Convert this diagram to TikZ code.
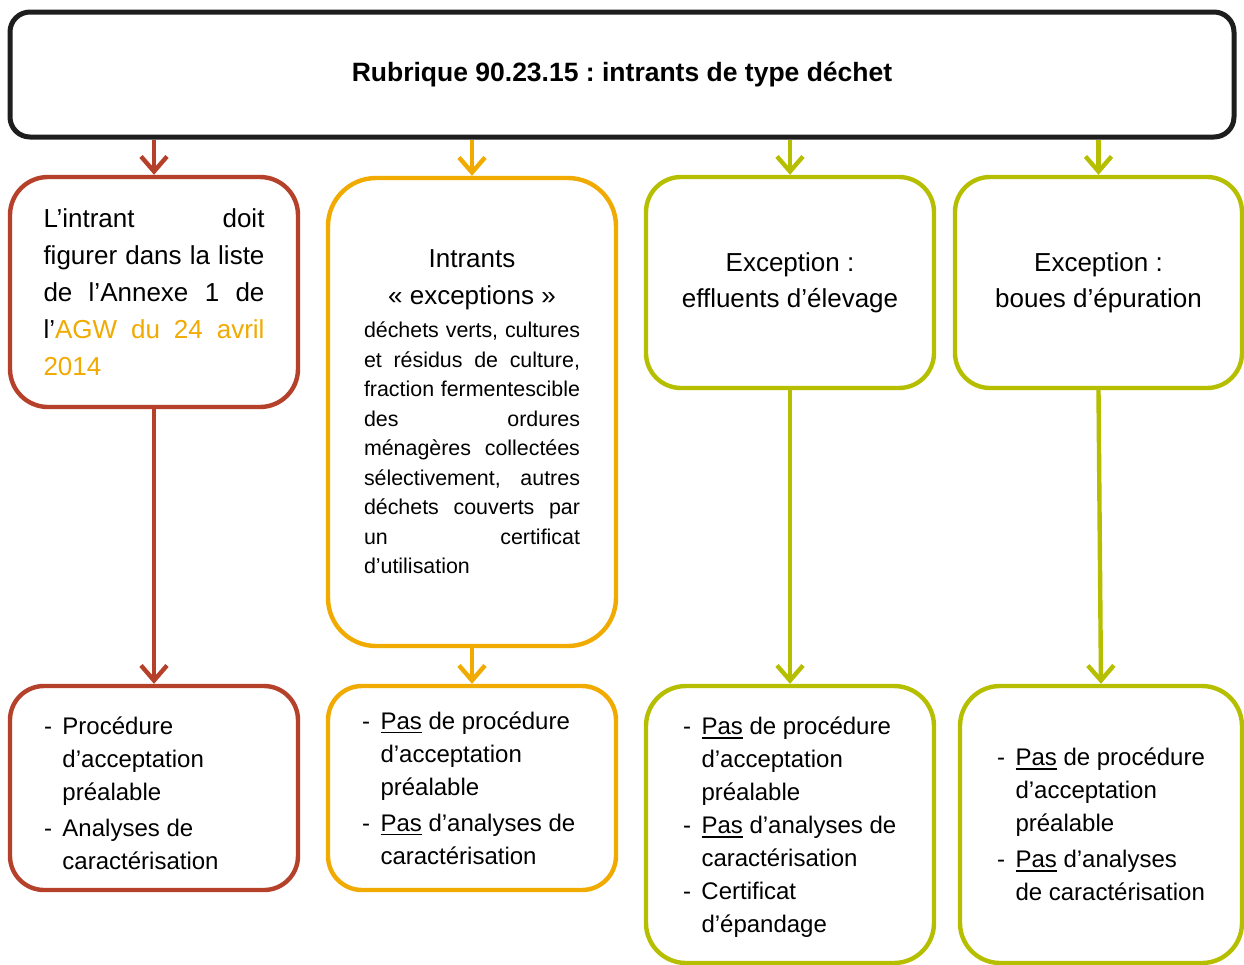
\documentclass[tikz,border=0pt]{standalone}
\usepackage{fontspec}
\setmainfont{Liberation Sans}
\usepackage{tikz}
\usetikzlibrary{arrows.meta, positioning}
\definecolor{rouge}{HTML}{B5412B}
\definecolor{jaune}{HTML}{F0AA00}
\definecolor{vert}{HTML}{B5BF00}
\definecolor{noir}{HTML}{1E1E1E}
\tikzset{>={Straight Barb[length=7.5pt,width=13pt]}}
\frenchspacing
\newcommand{\bloc}[2]{\vbox{\hsize=#1\relax\parindent=0pt\parskip=1.5pt\rightskip=0pt plus 1fil\hyphenpenalty=10000 #2}}
\newcommand{\jrow}[1]{\hbox to\hsize{#1}}
\newcommand{\souligne}[1]{\setbox0=\hbox{#1}\rlap{\rule[-2pt]{\wd0}{0.8pt}}\box0\relax}
\newcommand{\itm}[1]{\par\hangindent=9.25pt\hangafter=1\noindent\hbox to9.25pt{-\hfil}#1\par}

\begin{document}
\begin{tikzpicture}[x=0.5pt,y=-0.5pt,
        cadre/.style={draw, line width=2.2pt, rounded corners=#1, inner sep=0pt, minimum width=144pt, fill=white},
        cadre/.default=17pt,
        gros/.style={font=\fontsize{13}{18.5}\selectfont},
        liste/.style={font=\fontsize{12}{16.5}\selectfont},
        fleche/.style={->, line width=2.2pt}]
        \useasboundingbox (0,0) rectangle (1244,965);

        % rubrique
        \node[cadre=10pt, draw=noir, line width=2.5pt, minimum width=612pt, minimum height=62.5pt,
              font={\fontsize{13.25}{16}\selectfont\bfseries}] (rub) at (622,74.5)
              {Rubrique 90.23.15 : intrants de type déchet};

        % premiere rangee
        \node[cadre=19pt, draw=rouge, minimum height=115pt, gros] (e1) at (154,292) {\bloc{110.5pt}{%
            \jrow{L’intrant doit}
            \jrow{figurer dans la liste}
            \jrow{de l’Annexe 1 de}
            \jrow{l’\textcolor{jaune}{AGW du 24 avril}}
            \jrow{\textcolor{jaune}{2014}\hfil}}};
        \node[cadre=24pt, draw=jaune, minimum height=234pt, gros] (e2) at (472,412) {\bloc{108pt}{%
            \jrow{\hfil Intrants\hfil}
            \jrow{\hfil « exceptions »\hfil}
            \fontsize{10.7}{14.75}\selectfont
            \vskip1.75pt
            \jrow{déchets verts, cultures}
            \jrow{et résidus de culture,}
            \jrow{fraction fermentescible}
            \jrow{des ordures}
            \jrow{ménagères collectées}
            \jrow{sélectivement, autres}
            \jrow{déchets couverts par}
            \jrow{un certificat}
            \jrow{d’utilisation\hfil}}};
        \node[cadre=17.5pt, draw=vert, minimum height=105.5pt, align=center, font=\fontsize{13}{18}\selectfont] (e3) at (790,282.5)
            {Exception :\\ effluents d’élevage};
        \node[cadre=17.5pt, draw=vert, minimum width=143.5pt, minimum height=105.5pt, align=center, font=\fontsize{13}{18}\selectfont] (e4) at (1098.5,282.5)
            {Exception :\\ boues d’épuration};

        % deuxieme rangee
        \node[cadre=17pt, draw=rouge, minimum height=102pt, liste] (s1) at (154,788) {\bloc{110pt}{%
            \vskip4pt
            \itm{Procédure\newline d’acceptation\newline préalable}
            \itm{Analyses de\newline caractérisation}}};
        \node[cadre=17pt, draw=jaune, minimum height=102pt, liste] (s2) at (472,788) {\bloc{110pt}{%
            \itm{\souligne{Pas} de procédure\newline d’acceptation\newline préalable}
            \itm{\souligne{Pas} d’analyses de\newline caractérisation}}};
        \node[cadre=20pt, draw=vert, minimum height=138.5pt, liste] (s3) at (790,824.5) {\bloc{107pt}{%
            \parskip=0pt
            \vskip3pt
            \itm{\souligne{Pas} de procédure\newline d’acceptation\newline préalable}
            \itm{\souligne{Pas} d’analyses de\newline caractérisation}
            \itm{Certificat\newline d’épandage}}};
        \node[cadre=20pt, draw=vert, minimum width=141pt, minimum height=138.5pt, liste] (s4) at (1101,824.5) {\bloc{104pt}{%
            \itm{\souligne{Pas} de procédure\newline d’acceptation\newline préalable}
            \itm{\souligne{Pas} d’analyses\newline de caractérisation}}};

        % fleches
        \draw[fleche, rouge] (rub.south -| e1.north) -- (e1.north);
        \draw[fleche, jaune] (rub.south -| e2.north) -- (e2.north);
        \draw[fleche, vert] (rub.south -| e3.north) -- (e3.north);
        \draw[fleche, vert] (rub.south -| e4.north) -- (e4.north);
        \draw[fleche, rouge] (e1.south) -- (s1.north);
        \draw[fleche, jaune] (e2.south) -- (s2.north);
        \draw[fleche, vert] (e3.south) -- (s3.north);
        \draw[fleche, vert] (e4.south) -- (s4.north);
\end{tikzpicture}
\end{document}
